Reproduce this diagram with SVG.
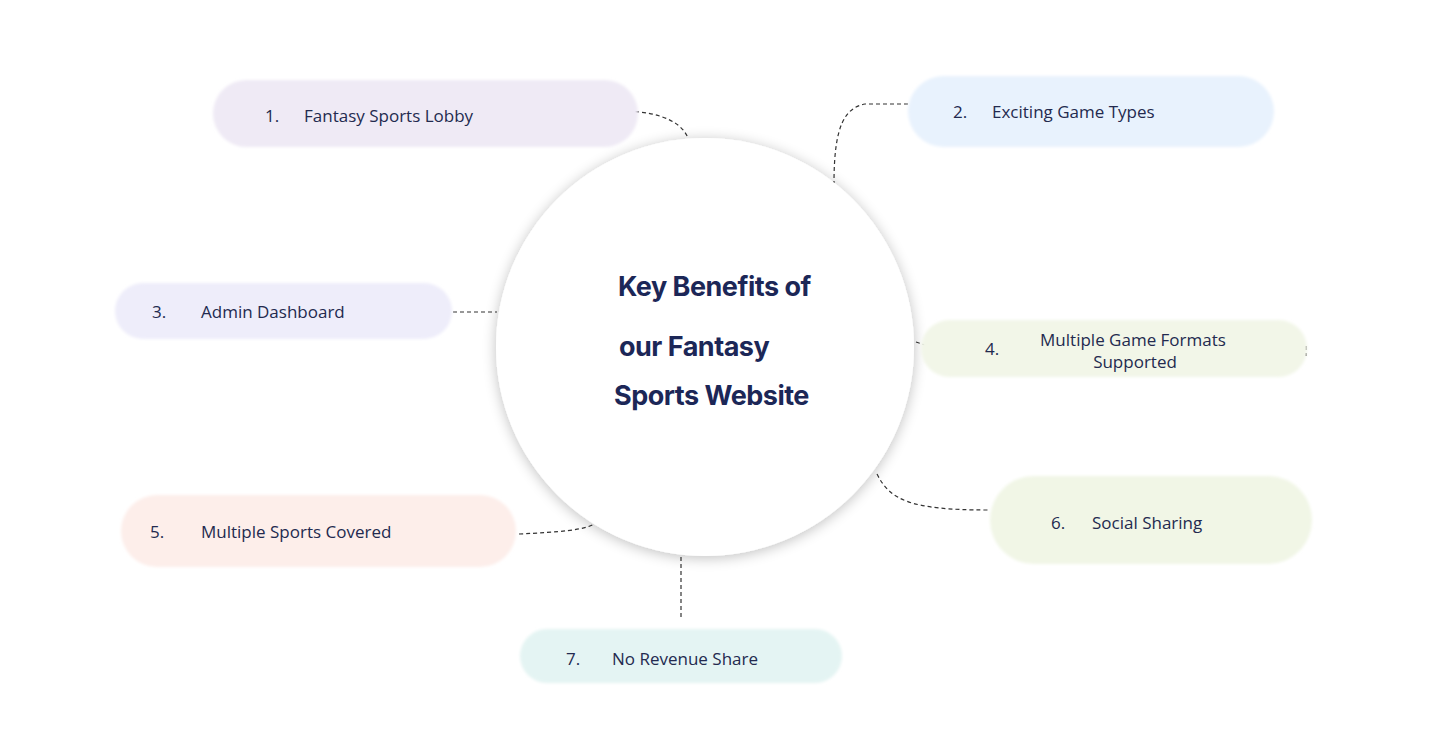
<svg xmlns="http://www.w3.org/2000/svg" width="1439" height="754" viewBox="0 0 1439 754">
<defs>
<style>
.lbl{font-family:"Open Sans","Liberation Sans",sans-serif;font-size:17px;fill:#232a4f}
.ttl{font-family:"Inter","Liberation Sans",sans-serif;font-size:27px;font-weight:700;fill:#1c2757;letter-spacing:-0.5px}
.con{fill:none;stroke:#333;stroke-width:1.2;stroke-dasharray:4 3}
</style>
<filter id="sh" x="-20%" y="-20%" width="140%" height="140%"><feGaussianBlur in="SourceAlpha" stdDeviation="7"/><feOffset dx="0" dy="2"/><feComponentTransfer><feFuncA type="linear" slope="0.25"/></feComponentTransfer><feMerge><feMergeNode/><feMergeNode in="SourceGraphic"/></feMerge></filter>
<filter id="soft"><feGaussianBlur stdDeviation="1.5"/></filter>
</defs>
<rect width="1439" height="754" fill="#fff"/>
<g id="connectors">
<path class="con" d="M614,111 C650,110 680,118 688,138"/>
<path class="con" d="M908,104 L865,104 C845,108 834,125 834,183"/>
<path class="con" d="M453,312 L497,312"/>
<path class="con" d="M916,342 L928,346"/>
<path class="con" d="M1306,346 L1306,356"/>
<path class="con" d="M519,534 C560,532 585,530 594,524"/>
<path class="con" d="M877,474 C890,500 910,510 988,510"/>
<path class="con" d="M681,557 L681,620"/>
</g>
<g id="center">
<circle cx="705" cy="347" r="209" fill="#fff" filter="url(#sh)"/>
<text class="ttl" x="618" y="296">Key Benefits of</text>
<text class="ttl" x="619" y="356">our Fantasy</text>
<text class="ttl" x="614" y="405">Sports Website</text>
</g>
<g id="n1"><rect x="213" y="80" width="425" height="67" rx="33.5" fill="#efeaf5" filter="url(#soft)"/><text class="lbl" x="265" y="122">1.</text><text class="lbl" x="304" y="122">Fantasy Sports Lobby</text></g>
<g id="n2"><rect x="908" y="76" width="366" height="71" rx="35.5" fill="#e8f2fd" filter="url(#soft)"/><text class="lbl" x="953" y="118">2.</text><text class="lbl" x="992" y="118">Exciting Game Types</text></g>
<g id="n3"><rect x="115" y="283" width="337" height="56" rx="28" fill="#eeedfa" filter="url(#soft)"/><text class="lbl" x="152" y="318">3.</text><text class="lbl" x="201" y="318">Admin Dashboard</text></g>
<g id="n4"><rect x="921" y="320" width="386" height="57" rx="28.5" fill="#f2f6e8" filter="url(#soft)"/><text class="lbl" x="985" y="355">4.</text><text class="lbl" x="1133" y="346" text-anchor="middle">Multiple Game Formats</text><text class="lbl" x="1135" y="368" text-anchor="middle">Supported</text></g>
<g id="n5"><rect x="121" y="495" width="395" height="72" rx="36" fill="#fdeeea" filter="url(#soft)"/><text class="lbl" x="150" y="538">5.</text><text class="lbl" x="201" y="538">Multiple Sports Covered</text></g>
<g id="n6"><rect x="990" y="476" width="322" height="88" rx="44" fill="#f1f6e6" filter="url(#soft)"/><text class="lbl" x="1051" y="529">6.</text><text class="lbl" x="1092" y="529">Social Sharing</text></g>
<g id="n7"><rect x="520" y="629" width="322" height="54" rx="27" fill="#e4f4f3" filter="url(#soft)"/><text class="lbl" x="566" y="665">7.</text><text class="lbl" x="612" y="665">No Revenue Share</text></g>
</svg>
